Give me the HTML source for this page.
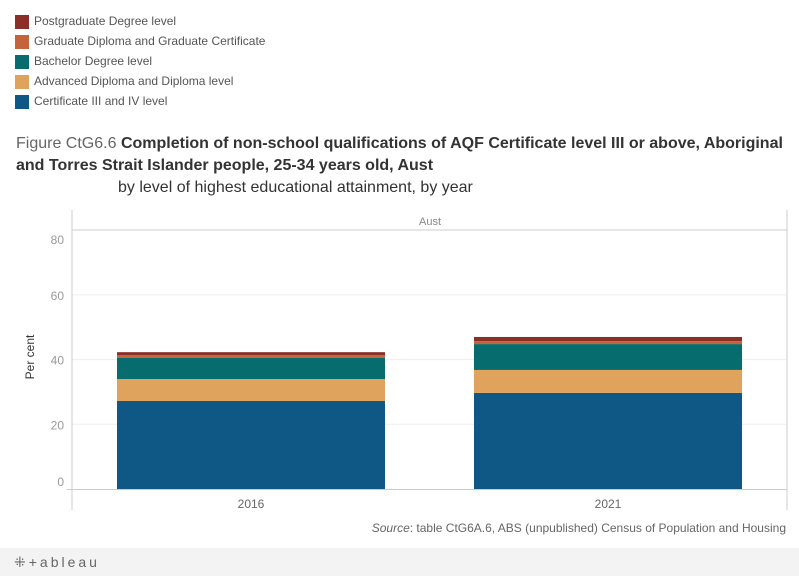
<!DOCTYPE html>
<html><head><meta charset="utf-8">
<style>
body{margin:0;width:799px;height:576px;background:#fff;font-family:"Liberation Sans","DejaVu Sans",sans-serif;overflow:hidden;position:relative}
.lg{position:absolute;left:15px;height:14px;font-size:12px;color:#555;white-space:nowrap}
.lg span{display:inline-block;width:14px;height:14px;vertical-align:top;margin-right:5px}
.lg b{font-weight:normal;position:relative;top:-1px}
</style></head><body>
<div id="legend"></div>
<div style="position:absolute;left:16px;top:133px;font-size:16px;color:#333;line-height:22px;width:780px">
<span style="color:#666">Figure CtG6.6 </span><span style="font-weight:bold">Completion of non-school qualifications of AQF Certificate level III or above, Aboriginal and Torres Strait Islander people, 25-34 years old, Aust</span></div>
<div style="position:absolute;left:118px;top:179px;font-size:16px;color:#333">by level of highest educational attainment, by year</div>
<svg id="chart" width="799" height="576" style="position:absolute;left:0;top:0"></svg>
<div style="position:absolute;right:13px;top:521px;font-size:12px;color:#666"><i>Source</i>: table CtG6A.6, ABS (unpublished) Census of Population and Housing</div>
<div style="position:absolute;left:0;top:548px;width:799px;height:28px;background:#f3f3f3"></div>
<div style="position:absolute;left:14px;top:554px;font-size:14px;color:#666;letter-spacing:3px">⁜+ableau</div>
<script>
const categories=["2016","2021"];
const seriesNames=["Certificate III and IV level","Advanced Diploma and Diploma level","Bachelor Degree level","Graduate Diploma and Graduate Certificate","Postgraduate Degree level"];
const colors=["#0f5784","#dfa35e","#066c6e","#c4643b","#8b2f29"];
const cert=[27.2,29.7];
const adv=[6.8,7.1];
const bach=[6.6,8.0];
const grad=[0.8,0.9];
const post=[0.9,1.3];
const yTicks=[0,20,40,60,80];
const series=[cert,adv,bach,grad,post];
const NS="http://www.w3.org/2000/svg";
const svg=document.getElementById('chart');
const y=v=>489-v*3.235;
const xC=i=>251+i*357;
function mk(t,a){const e=document.createElementNS(NS,t);for(const k in a)e.setAttribute(k,a[k]);svg.appendChild(e);return e;}
const lg=document.getElementById('legend');
for(let k=4;k>=0;k--){const d=document.createElement('div');d.className='lg';d.style.top=(15+(4-k)*20)+'px';


d.innerHTML='<span style="background:'+colors[k]+'"></span><b>'+seriesNames[k]+'</b>';lg.appendChild(d);}
let e=mk('line',{x1:72,x2:787,y1:230,y2:230,stroke:'#ccc'});
e=mk('text',{x:430,y:225,'font-size':11,fill:'#888','text-anchor':'middle'});e.textContent='Aust';


yTicks.forEach((t,i)=>{
 if(t>0&&t<80){const g=mk('line',{x1:72,x2:786,y1:y(t),y2:y(t),stroke:'#eee'});
 
 }
 let off=5; if(i===0) off=-3; if(i===yTicks.length-1) off=14;
 const tx=mk('text',{x:64,y:y(t)+off,'font-size':12,fill:'#999','text-anchor':'end'});tx.textContent=t;
 
 
});
mk('line',{x1:72,x2:72,y1:210,y2:510,stroke:'#ccc'});
mk('line',{x1:787,x2:787,y1:210,y2:510,stroke:'#ccc'});
mk('line',{x1:67,x2:787,y1:489.5,y2:489.5,stroke:'#ccc'});
e=mk('text',{x:0,y:0,'font-size':12,fill:'#333','text-anchor':'middle',transform:'translate(34,357) rotate(-90)'});e.textContent='Per cent';


categories.forEach((c,i)=>{
 let base=0;
 series.forEach((s,k)=>{
  const r=mk('rect',{x:xC(i)-134,width:268,y:y(base+s[i]),height:y(base)-y(base+s[i]),fill:colors[k]});
  
  
  base+=s[i];
 });
 const t=mk('text',{x:xC(i),y:508,'font-size':12,fill:'#666','text-anchor':'middle'});t.textContent=c;
 
 
});
</script>
</body></html>
